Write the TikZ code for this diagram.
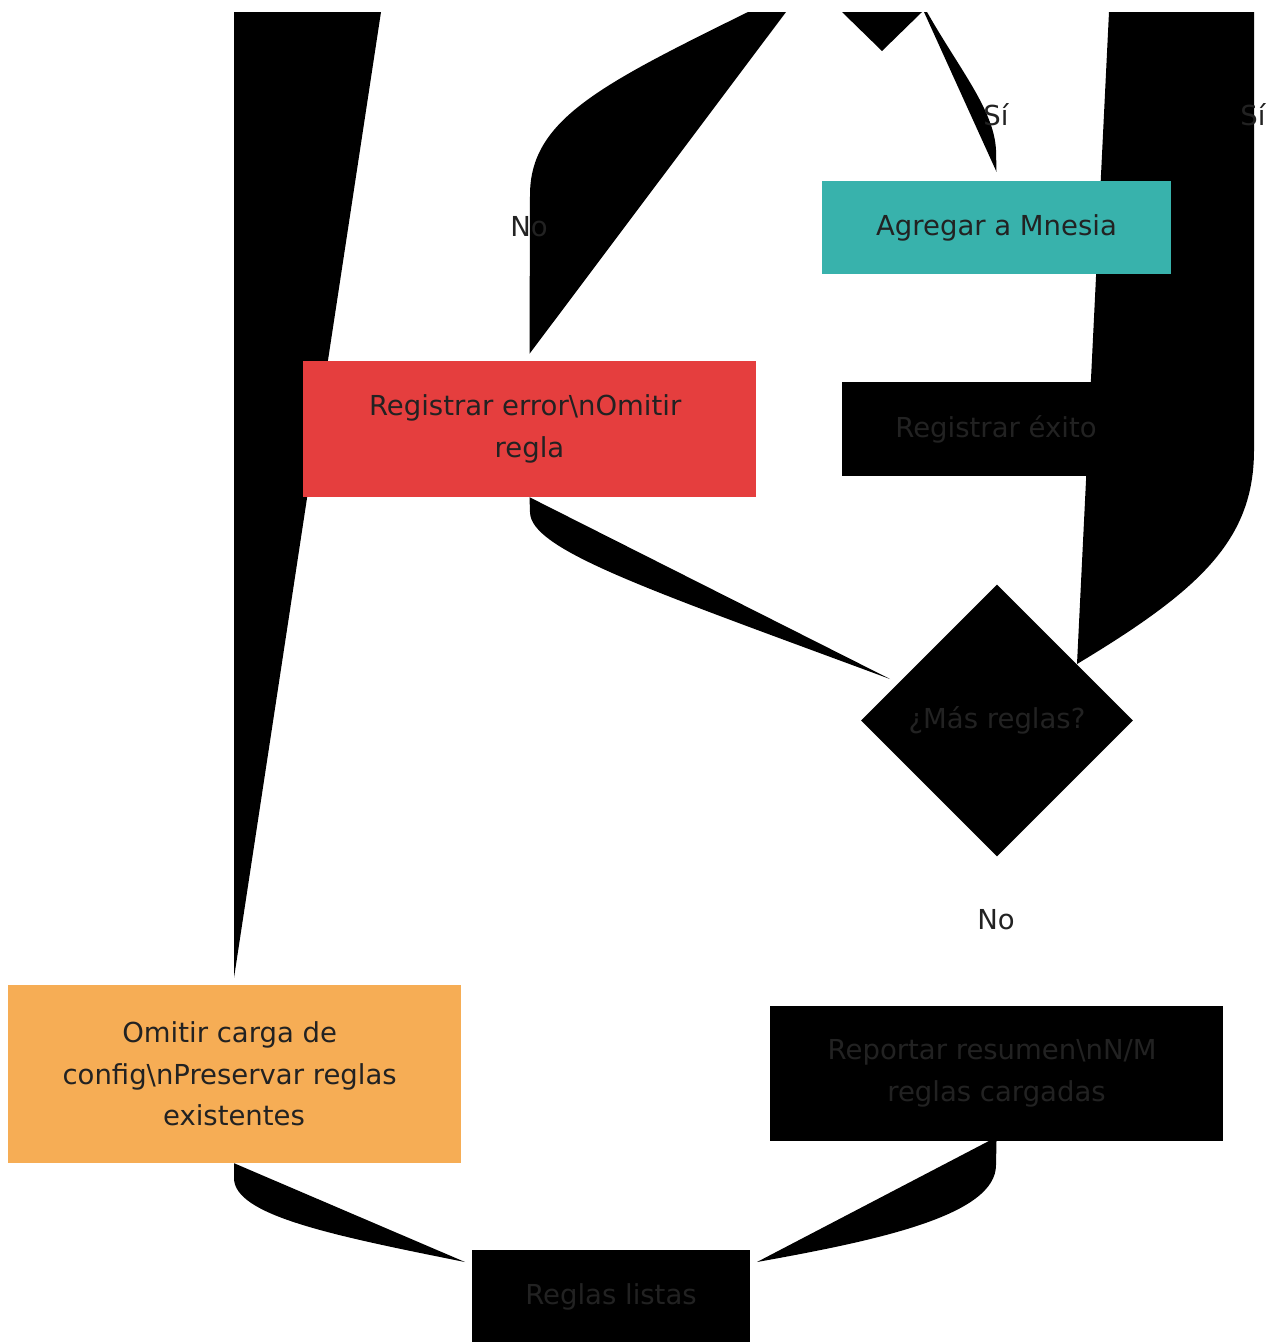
\documentclass[tikz,border=0pt]{standalone}
\usepackage{fontspec}
\setmainfont{DejaVu Sans}
\usetikzlibrary{shapes.geometric,backgrounds}
\definecolor{mnesiateal}{HTML}{38B2AC}
\definecolor{errred}{HTML}{E53E3E}
\definecolor{skiporange}{HTML}{F6AD55}
\definecolor{txtgray}{HTML}{222222}
\newcommand{\wrapsp}{\kern8.7pt}
\begin{document}
\begin{tikzpicture}[x=1pt,y=-1pt,
  box/.style={rectangle,inner sep=0pt,align=center,text=txtgray,font=\fontsize{27.5}{41.5}\selectfont},
  lbl/.style={inner sep=0pt,text=txtgray,font=\fontsize{27.5}{41.5}\selectfont}]
\useasboundingbox (0,0) rectangle (1273,1342);

\node[box,fill=mnesiateal,minimum width=349,minimum height=93] (add) at (996.5,227.5) {Agregar a Mnesia};
\node[box,fill=errred,minimum width=453,minimum height=136] (err) at (529.5,429) {\raisebox{-2pt}{Registrar error\textbackslash nOmitir\wrapsp}\\\raisebox{-2pt}{regla}};
\node[box,fill=black,minimum width=308,minimum height=94] (ok) at (996,429) {Registrar éxito};
\node[box,diamond,fill=black,minimum width=272,minimum height=272] (more) at (997,720.5) {¿Más reglas?};
\node[box,fill=skiporange,minimum width=453,minimum height=178] (skip) at (234,1074) {Omitir carga de\wrapsp\\config\textbackslash nPreservar reglas\wrapsp\\existentes};
\node[box,fill=black,minimum width=453,minimum height=135] (report) at (996.5,1073.5) {\raisebox{-2pt}{Reportar resumen\textbackslash nN/M\wrapsp}\\\raisebox{-2pt}{reglas cargadas}};
\node[box,fill=black,minimum width=278,minimum height=93] (ready) at (611,1296.5) {Reglas listas};

% connectors, cut off at the top
\begin{scope}[on background layer]
\fill (skip.north |- 0,12) -- (381,12) -- ([yshift=7pt]skip.north) -- cycle;
\fill (786,12) -- ([yshift=7pt]err.north) -- (530,195) .. controls (530,120) and (600,85) .. (748,12) -- cycle;
\fill (842,12) -- (922,12) -- (882,51) -- cycle;
\fill (924,12) -- ([yshift=9pt]add.north) -- (996,150) .. controls (994,110) and (960,70) .. (927,12) -- cycle;
\fill (1109,12) -- (1254,12) -- (1254,450) .. controls (1254,540) and (1200,590) .. (1077,664) -- cycle;
\fill (err.south) -- (890,679) .. controls (650,590) and (530,550) .. (530,512) -- cycle;
\fill (skip.south) -- (465,1262) .. controls (330,1235) and (234,1215) .. (234,1178) -- cycle;
\fill ([xshift=-8pt]report.south) -- (757,1262) .. controls (880,1240) and (996,1215) .. (996,1165) -- (report.south) -- cycle;
\end{scope}

\node[lbl] (noerr) at (529,227) {No};
\node[lbl] (siadd) at (996,115) {Sí};
\node[lbl] (simore) at (1253,115) {Sí};
\node[lbl] (nomore) at (996,920) {No};
\end{tikzpicture}
\end{document}
